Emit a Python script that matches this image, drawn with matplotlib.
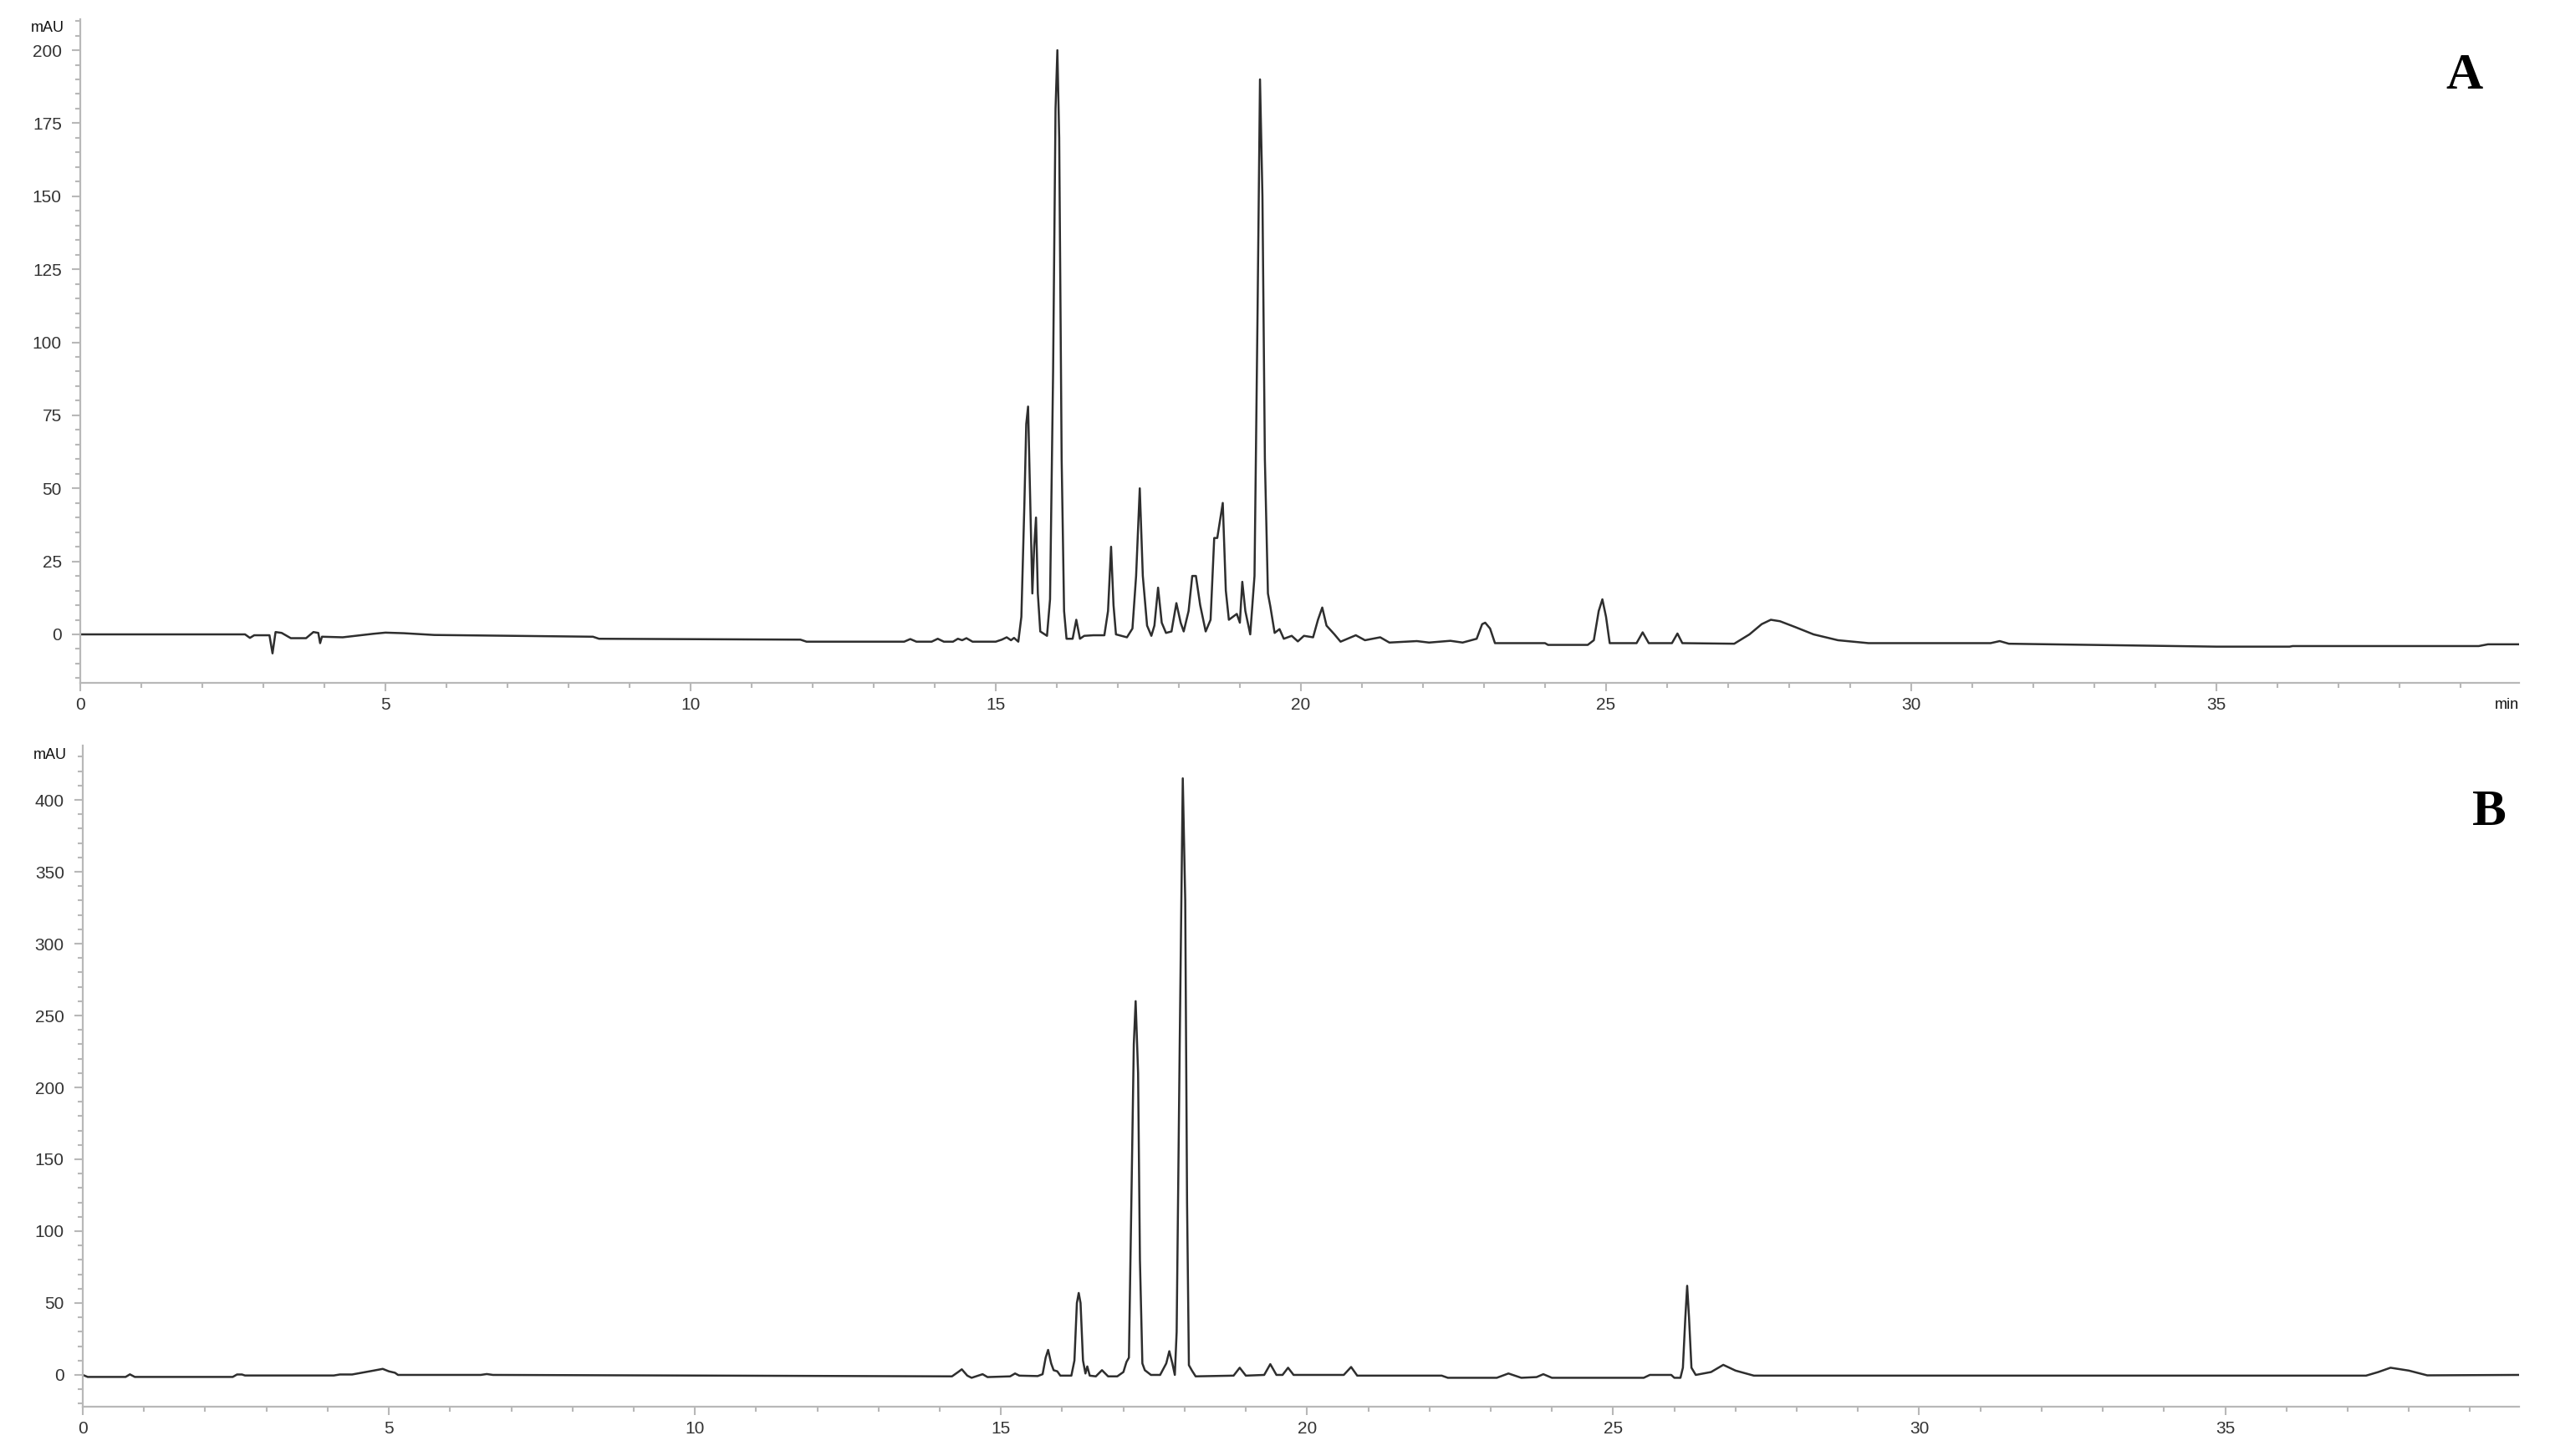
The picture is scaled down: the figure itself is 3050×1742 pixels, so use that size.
import numpy as np
import matplotlib
matplotlib.use("Agg")
from matplotlib import pyplot as plt
from matplotlib.ticker import MultipleLocator

# chromatogram A, (min, mAU)
trace_a = [
    (0.00, 0.0), (2.70, 0.0), (2.78, -1.2), (2.85, -0.3), (3.10, -0.3), (3.15, -6.5),
    (3.20, 0.8), (3.30, 0.5), (3.45, -1.3), (3.70, -1.3), (3.82, 0.8), (3.90, 0.5),
    (3.93, -3.0), (3.96, -0.8), (4.30, -1.0), (4.80, 0.2), (5.00, 0.6), (5.30, 0.4),
    (5.80, -0.2), (8.40, -0.8), (8.50, -1.5), (11.80, -1.8), (11.90, -2.5),
    (13.50, -2.5), (13.60, -1.6), (13.70, -2.5), (13.95, -2.5), (14.05, -1.5),
    (14.15, -2.5), (14.30, -2.5), (14.38, -1.5), (14.45, -2.0), (14.52, -1.3),
    (14.62, -2.5), (15.00, -2.5), (15.10, -1.8), (15.18, -1.0), (15.25, -2.0),
    (15.30, -1.2), (15.37, -2.5), (15.42, 6), (15.47, 45), (15.50, 72), (15.53, 78),
    (15.56, 50), (15.60, 14), (15.63, 30), (15.66, 40), (15.69, 14), (15.73, 1),
    (15.84, -0.5), (15.89, 12), (15.94, 90), (15.98, 180), (16.01, 200), (16.04, 170),
    (16.08, 60), (16.12, 8), (16.16, -1.5), (16.26, -1.5), (16.32, 5), (16.38, -1.5),
    (16.45, -0.5), (16.60, -0.3), (16.78, -0.3), (16.84, 8), (16.89, 30), (16.93, 10),
    (16.97, 0), (17.15, -1.0), (17.24, 2), (17.30, 20), (17.36, 50), (17.41, 20),
    (17.48, 3), (17.55, -0.5), (17.60, 3), (17.66, 16), (17.72, 4), (17.79, 0.5),
    (17.88, 1), (17.96, 10.7), (18.03, 4), (18.08, 1), (18.16, 8), (18.22, 20),
    (18.28, 20), (18.35, 10), (18.44, 1), (18.52, 5), (18.58, 33), (18.63, 33),
    (18.72, 45), (18.77, 15), (18.82, 5), (18.95, 7), (19.00, 4), (19.04, 18),
    (19.09, 8), (19.17, 0), (19.24, 20), (19.29, 110), (19.33, 190), (19.37, 150),
    (19.41, 60), (19.46, 14), (19.50, 9.5), (19.57, 0.5), (19.65, 1.8), (19.72, -1.5),
    (19.85, -0.5), (19.95, -2.4), (20.05, -0.5), (20.20, -1.0), (20.28, 5),
    (20.35, 9.2), (20.42, 3), (20.55, 0), (20.65, -2.5), (20.90, -0.3), (21.05, -2.0),
    (21.30, -1.0), (21.45, -2.8), (21.90, -2.3), (22.10, -2.8), (22.45, -2.2),
    (22.65, -2.8), (22.88, -1.5), (22.97, 3.5), (23.02, 4), (23.10, 2), (23.18, -3.0),
    (24.00, -3.0), (24.05, -3.6), (24.70, -3.6), (24.80, -2), (24.88, 8), (24.94, 12),
    (25.00, 6), (25.06, -3.0), (25.50, -3.0), (25.60, 0.7), (25.70, -3.0),
    (26.08, -3.0), (26.17, 0.3), (26.25, -3.0), (27.10, -3.2), (27.35, 0),
    (27.55, 3.5), (27.70, 5), (27.85, 4.5), (28.10, 2.5), (28.40, 0), (28.80, -2),
    (29.30, -3.0), (31.30, -3.0), (31.45, -2.3), (31.60, -3.2), (35.00, -4.2),
    (36.20, -4.2), (36.25, -4.0), (39.30, -4.0), (39.45, -3.4), (39.96, -3.4),
]

# chromatogram B
trace_b = [
    (0.00, 0.0), (0.08, -1.4), (0.70, -1.4), (0.77, 0.4), (0.85, -1.4), (2.45, -1.4),
    (2.52, 0.3), (2.60, 0.3), (2.65, -0.4), (4.10, -0.4), (4.20, 0.3), (4.40, 0.3),
    (4.75, 3.0), (4.90, 4.2), (5.00, 2.5), (5.10, 1.5), (5.15, 0), (6.50, 0),
    (6.60, 0.6), (6.70, 0), (14.20, -1.0), (14.30, 2.0), (14.36, 3.9), (14.45, -0.5),
    (14.52, -2.0), (14.70, 0.5), (14.78, -1.5), (15.15, -1.0), (15.23, 1.0),
    (15.30, -0.5), (15.60, -0.8), (15.68, 0.5), (15.73, 12), (15.77, 17.4),
    (15.82, 8), (15.86, 3.3), (15.92, 2.5), (15.97, -0.5), (16.15, -0.5), (16.20, 10),
    (16.24, 50), (16.27, 57), (16.30, 50), (16.34, 10), (16.38, 1), (16.41, 5.9),
    (16.45, -0.5), (16.55, -1.0), (16.65, 3.3), (16.75, -1.0), (16.90, -1.0),
    (17.00, 2), (17.05, 9), (17.09, 12), (17.13, 120), (17.17, 230), (17.20, 260),
    (17.24, 210), (17.27, 80), (17.31, 8), (17.35, 3.3), (17.45, 0), (17.60, 0),
    (17.70, 8), (17.75, 16.5), (17.80, 8), (17.84, 0), (17.87, 30), (17.92, 230),
    (17.97, 415), (18.01, 330), (18.04, 120), (18.07, 6.8), (18.12, 3), (18.18, -1),
    (18.80, -0.5), (18.90, 5), (19.00, -0.5), (19.30, 0), (19.40, 7.5), (19.50, 0),
    (19.60, 0), (19.69, 5), (19.78, 0), (20.60, 0), (20.72, 5.5), (20.82, -0.5),
    (22.20, -0.5), (22.30, -2.0), (23.10, -2.0), (23.29, 1), (23.50, -2),
    (23.75, -1.5), (23.86, 0.5), (24.00, -2), (25.50, -2), (25.60, 0), (25.95, 0),
    (26.00, -2), (26.10, -2), (26.14, 5), (26.18, 40), (26.21, 62), (26.24, 40),
    (26.28, 5), (26.35, 0), (26.60, 2), (26.80, 7), (27.00, 3), (27.30, -0.5),
    (37.30, -0.5), (37.50, 2), (37.70, 5), (38.00, 3), (38.30, -0.3), (39.80, 0),
]

a_t, a_v = np.array(trace_a).T
b_t, b_v = np.array(trace_b).T

W, H = 3050, 1742
fig = plt.figure(figsize=(W / 100, H / 100), dpi=100)
plt.rcParams['font.family'] = ['Liberation Sans', 'DejaVu Sans']

axis_col = '#b8b8b8'
text_col = '#333333'
line_col = '#2e2e2e'


def style(ax, ymajor, yminor):
    for s in ['top', 'right']:
        ax.spines[s].set_visible(False)
    for s in ['left', 'bottom']:
        ax.spines[s].set_color(axis_col)
        ax.spines[s].set_linewidth(1.6)
    ax.xaxis.set_major_locator(MultipleLocator(5))
    ax.xaxis.set_minor_locator(MultipleLocator(1))
    ax.yaxis.set_major_locator(MultipleLocator(ymajor))
    ax.yaxis.set_minor_locator(MultipleLocator(yminor))
    ax.tick_params(which='major', length=7, width=1.5, color=axis_col,
                   labelsize=15, labelcolor=text_col)
    ax.tick_params(which='minor', length=4.5, width=1.5, color=axis_col)
    ax.tick_params(axis='y', which='major', pad=9)
    ax.tick_params(axis='x', which='major', pad=5)


ax1 = fig.add_axes([96 / W, 1 - 817 / H, (3013 - 96) / W, (817 - 23) / H])
ax1.plot(a_t, a_v, color=line_col, lw=1.8)
ax1.set_xlim(0, 39.96)
ax1.set_ylim(-16.6, 210.6)
style(ax1, 25, 5)
ax1.set_xticks([0, 5, 10, 15, 20, 25, 30, 35])

ax2 = fig.add_axes([99 / W, 1 - 1683 / H, (3013 - 99) / W, (1683 - 892) / H])
ax2.plot(b_t, b_v, color=line_col, lw=1.8)
ax2.set_xlim(0, 39.8)
ax2.set_ylim(-22.1, 437.8)
style(ax2, 50, 10)
ax2.set_xticks([0, 5, 10, 15, 20, 25, 30, 35])

fig.text(77 / W, 1 - 33 / H, 'mAU', ha='right', va='center', fontsize=13, color='#111111')
fig.text(80 / W, 1 - 903 / H, 'mAU', ha='right', va='center', fontsize=13, color='#111111')
fig.text(3013 / W, 1 - 843 / H, 'min', ha='right', va='center', fontsize=13, color='#111111')

fig.text(2947 / W, 1 - 91 / H, 'A', ha='center', va='center', fontsize=44,
         fontweight='bold', family='Liberation Serif')
fig.text(2977 / W, 1 - 972 / H, 'B', ha='center', va='center', fontsize=44,
         fontweight='bold', family='Liberation Serif')

fig.savefig('out.png', dpi=100)
